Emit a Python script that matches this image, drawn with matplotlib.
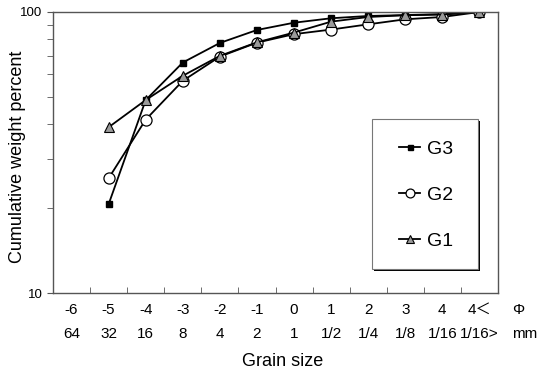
import numpy as np
from matplotlib import pyplot as plt
from matplotlib.patches import Rectangle

plt.rcParams['font.family'] = ['Liberation Sans', 'Noto Sans CJK JP', 'DejaVu Sans']

phi_labels = ["-6", "-5", "-4", "-3", "-2", "-1", "0", "1", "2", "3", "4", "4＜"]
mm_labels = ["64", "32", "16", "8", "4", "2", "1", "1/2", "1/4", "1/8", "1/16", "1/16>"]

# cumulative weight percent, first class (-6) has no data
g3 = [np.nan, 20.7, 48.6, 66.1, 77.6, 86.3, 91.6, 95.0, 96.8, 97.5, 98.3, 100]
g2 = [np.nan, 25.6, 41.4, 56.9, 69.4, 77.8, 83.4, 86.6, 90.4, 94.2, 96.0, 100]
g1 = [np.nan, 38.9, 48.6, 59.3, 69.8, 78.0, 84.5, 92.4, 96.0, 97.4, 97.9, 100]

W, H = 539, 373
fig = plt.figure(figsize=(W / 100, H / 100), dpi=100)
ax = fig.add_axes([53 / W, 1 - 293 / H, 445 / W, 281 / H])

x = np.arange(len(phi_labels))
ax.plot(x, g3, color="black", lw=1.3, marker="s", ms=4.5, mfc="black", mec="black", label="G3")
ax.plot(x, g2, color="black", lw=1.3, marker="o", ms=8, mfc="white", mec="black", mew=0.9, label="G2")
ax.plot(x, g1, color="black", lw=1.3, marker="^", ms=6.5, mfc="#9a9a9a", mec="black", mew=0.8, label="G1")

ax.set_yscale("log")
ax.set_ylim(10, 100)
ax.set_yticks([10, 100])
ax.set_yticklabels(["10", "100"], fontsize=9.5)
ax.tick_params(axis="y", which="both", direction="out", length=4, color="#555555")
ax.yaxis.set_minor_formatter(plt.NullFormatter())

ax.set_xlim(-0.5, len(x) - 0.5)
ax.set_xticks([])
ax.set_xticks(x[:-1] + 0.5, minor=True)
ax.tick_params(axis="x", which="minor", direction="in", length=4, color="#555555")

for s in ax.spines.values():
    s.set_color("#555555")
    s.set_linewidth(1.0)

fig.text(18 / W, 1 - 157 / H, "Cumulative weight percent", rotation=90,
         ha="center", va="center", fontsize=13)

# two rows of class labels under the axis
trans = ax.get_xaxis_transform()
for xi, p, m in zip(x, phi_labels, mm_labels):
    ax.text(xi, -0.06, p, transform=trans, ha="center", va="center", fontsize=11)
    ax.text(xi, -0.145, m, transform=trans, ha="center", va="center", fontsize=11)
fig.text(518 / W, 1 - 310 / H, "Φ", ha="center", va="center", fontsize=11)
fig.text(525 / W, 1 - 334 / H, "mm", ha="center", va="center", fontsize=11)
fig.text(283 / W, 1 - 362 / H, "Grain size", ha="center", va="center", fontsize=13)

# legend box with a dark shadow on the right and bottom
fig.patches.append(Rectangle((374 / W, 1 - 271 / H), 106 / W, 150 / H, transform=fig.transFigure,
                             facecolor="black", edgecolor="none", zorder=5))
fig.patches.append(Rectangle((372 / W, 1 - 269 / H), 106 / W, 150 / H, transform=fig.transFigure,
                             facecolor="white", edgecolor="#777777", lw=0.8, zorder=6))
leg = fig.legend(loc="center", bbox_to_anchor=(426 / W, 1 - 195 / H), frameon=False,
                 fontsize=14, handlelength=1.1, handletextpad=0.35, labelspacing=1.45,
                 markerscale=0.8)
leg.set_zorder(7)

plt.savefig("out.png", dpi=100)
